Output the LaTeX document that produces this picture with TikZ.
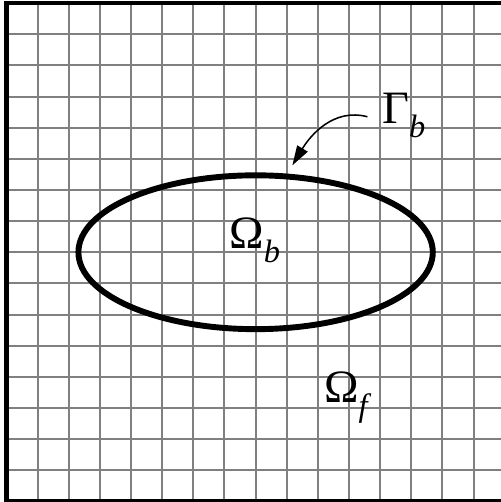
\documentclass[tikz,border=0pt]{standalone}
\usepackage{fontspec}
\setmainfont{Liberation Serif}
\usetikzlibrary{arrows.meta}
\newcommand{\onder}[1]{\raisebox{-0.3em}{\fontsize{14.8}{16}\selectfont\itshape #1}}
\tikzset{
  rooster/.style={draw=gray, line width=0.9pt},
  rand/.style={line width=1.9pt},
  lichaam/.style={line width=2.7pt},
  naam/.style={font=\fontsize{21.2}{24}\selectfont, inner sep=0pt, anchor=base west},
  pijl/.style={line width=0.7pt, -{Triangle[length=9pt, width=5.5pt]}}
}
\begin{document}
\begin{tikzpicture}[x=0.5cm, y=0.5cm]
  \useasboundingbox (-0.208,-0.02) rectangle (15.85,16.10);
  % rooster
  \draw[rooster] (0,0) grid[step=1] (16,16);
  % rand
  \draw[rand] (0,0) rectangle (16,16);
  % lichaam
  \draw[lichaam] (8,8) ellipse (5.69 and 2.47);
  \node[naam] (omegab) at (7.14,8.12) {Ω\onder{b}};
  \node[naam] (omegaf) at (10.19,3.18) {Ω\onder{f}};
  \node[naam] (gammab) at (12.05,12.13) {Γ\onder{b}};
  % pijl naar de rand
  \coordinate (pijlbegin) at (11.59,12.35);
  \coordinate (pijlpunt) at (9.18,10.79);
  \draw[pijl] (pijlbegin) to[out=165, in=59] (pijlpunt);
\end{tikzpicture}
\end{document}
